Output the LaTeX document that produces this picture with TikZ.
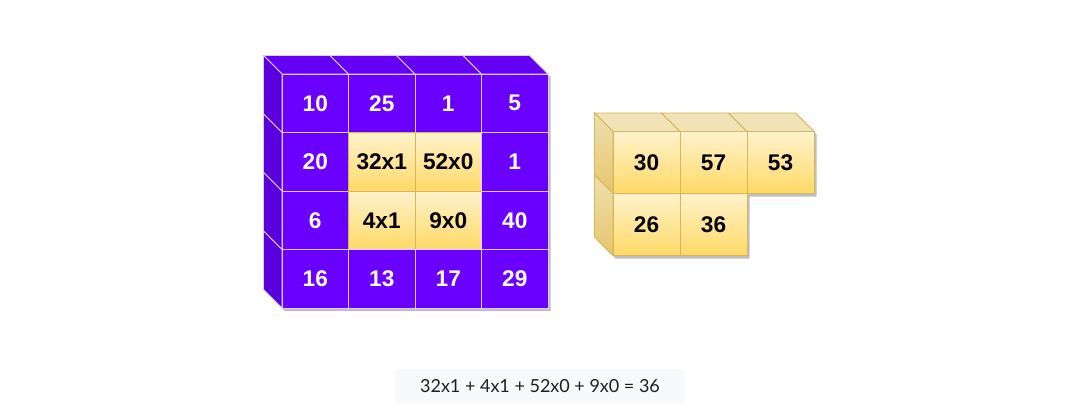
\documentclass[tikz,border=0pt]{standalone}
\usepackage{fontspec}
\setmainfont{Liberation Sans}
\newfontfamily\latofont{Lato}

\definecolor{violetfront}{HTML}{6A00FF}
\definecolor{violettop}{HTML}{6400F4}
\definecolor{violetside}{HTML}{5A00DC}
\definecolor{violetline}{HTML}{D9CCFF}
\definecolor{goldtop}{HTML}{FFF2CC}
\definecolor{goldbottom}{HTML}{FFD966}
\definecolor{goldline}{HTML}{D6B656}
\definecolor{goldface}{HTML}{F1E2B8}
\definecolor{goldsidetop}{HTML}{EFDFB0}
\definecolor{goldsidebottom}{HTML}{E6C66C}
\definecolor{boxgray}{HTML}{F8F9FA}
\definecolor{textdark}{HTML}{1F1F1F}

\begin{document}
\begin{tikzpicture}[x=0.75pt, y=-0.75pt,
    front purple/.style={fill=violetfront, draw=violetline, line width=0.6pt},
    side purple/.style={fill=violetside, draw=violetline, line width=0.6pt},
    top purple/.style={fill=violettop, draw=violetline, line width=0.6pt},
    front gold/.style={top color=goldtop, bottom color=goldbottom, draw=goldline, line width=0.6pt},
    side gold/.style={top color=goldsidetop, bottom color=goldsidebottom, draw=goldline, line width=0.6pt},
    top gold/.style={fill=goldface, draw=goldline, line width=0.6pt},
    num purple/.style={text=white, font=\bfseries\fontsize{17}{20}\selectfont, inner sep=0pt},
    num gold/.style={text=black, font=\bfseries\fontsize{17}{20}\selectfont, inner sep=0pt},
    shadow style/.style={fill=black, opacity=0.25},
    formula box/.style={fill=boxgray, rounded corners=3pt, minimum width=217.5pt,
        minimum height=26.25pt, text=textdark, font=\latofont\fontsize{13.5}{16}\selectfont},]
    \useasboundingbox (0,0) rectangle (1081,410);

    \pgfmathsetmacro{\dep}{18.5}

    % left block
    \begin{scope}[shift={(282,74)}]
    \pgfmathsetmacro{\cw}{66.5}
    \pgfmathsetmacro{\ch}{58.5}

    \fill[style=shadow style] (-\dep+2.5,-\dep+3) -- ++({4*\cw},0) -- ++(\dep,\dep)
        -- ++(0,{4*\ch}) -- ++({-4*\cw},0) -- ++(-\dep,-\dep) -- cycle;

    \foreach \c in {0,...,3}
        \draw[style=top purple] ({\c*\cw},0) -- ++(-\dep,-\dep) -- ++(\cw,0) -- ++(\dep,\dep) -- cycle;
    \foreach \r in {0,...,3}
        \draw[style=side purple] (0,{\r*\ch}) -- ++(-\dep,-\dep) -- ++(0,\ch) -- ++(\dep,\dep) -- cycle;

    \foreach \r/\c/\v/\kind in {0/0/10/purple, 0/1/25/purple, 0/2/1/purple, 0/3/5/purple,
        1/0/20/purple, 1/1/32x1/gold, 1/2/52x0/gold, 1/3/1/purple,
        2/0/6/purple, 2/1/4x1/gold, 2/2/9x0/gold, 2/3/40/purple,
        3/0/16/purple, 3/1/13/purple, 3/2/17/purple, 3/3/29/purple} {
        \draw[front \kind] ({\c*\cw},{\r*\ch}) rectangle ++(\cw,\ch);
        \node[num \kind] (l-\r-\c) at ({(\c+0.5)*\cw},{(\r+0.5)*\ch}) {\v};
    }
    \end{scope}

    % right block
    \begin{scope}[shift={(613,131.5)}]
    \pgfmathsetmacro{\cw}{67}
    \pgfmathsetmacro{\ch}{62}

    \fill[style=shadow style] (-\dep+2.5,-\dep+3) -- ++({3*\cw},0) -- ++(\dep,\dep)
        -- ++(0,\ch) -- ++(-\cw,0) -- ++(0,\ch) -- ++({-2*\cw},0) -- ++(-\dep,-\dep) -- cycle;

    \foreach \c in {0,...,2}
        \draw[style=top gold] ({\c*\cw},0) -- ++(-\dep,-\dep) -- ++(\cw,0) -- ++(\dep,\dep) -- cycle;
    \foreach \r in {0,1}
        \draw[style=side gold] (0,{\r*\ch}) -- ++(-\dep,-\dep) -- ++(0,\ch) -- ++(\dep,\dep) -- cycle;

    \foreach \r/\c/\v in {0/0/30, 0/1/57, 0/2/53, 1/0/26, 1/1/36} {
        \draw[front gold] ({\c*\cw},{\r*\ch}) rectangle ++(\cw,\ch);
        \node[num gold] (r-\r-\c) at ({(\c+0.5)*\cw},{(\r+0.5)*\ch}) {\v};
    }
    \end{scope}

    \node[formula box] (sum) at (540,386.5) {32x1 + 4x1 + 52x0 + 9x0 = 36};

\end{tikzpicture}
\end{document}
